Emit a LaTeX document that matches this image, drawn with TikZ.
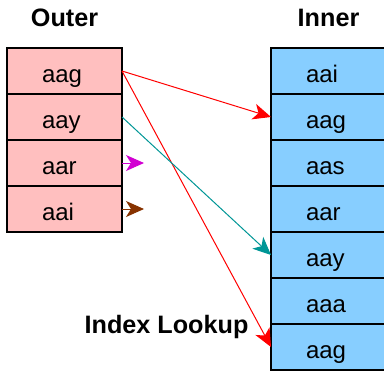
\documentclass[tikz,border=0pt]{standalone}
\usepackage{fontspec}
\setmainfont{Liberation Sans}
\usetikzlibrary{positioning, arrows.meta}

\definecolor{outerpink}{RGB}{255,191,191}
\definecolor{innerblue}{RGB}{135,206,255}
\definecolor{lookteal}{RGB}{0,150,150}
\definecolor{lookmagenta}{RGB}{210,0,210}
\definecolor{lookbrown}{RGB}{135,50,0}

\begin{document}
\begin{tikzpicture}[x=0.5pt, y=-0.5pt, node distance=0pt, font=\fontsize{12}{14}\selectfont]
    \tikzstyle{arrow} = [line width=0.5pt, -{Stealth[length=9pt, width=8pt, inset=2.5pt]}]
    \tikzstyle{title} = [font=\fontsize{12.6}{14}\selectfont\bfseries]
    \tikzstyle{row} = [rectangle, draw=black, line width=0.6pt, outer sep=0pt, minimum width=57.5pt, minimum height=23pt, inner xsep=17.5pt, inner ysep=0pt, text width=22.5pt, align=left, text height=11.5pt, text depth=0.5pt]
    \tikzstyle{outerrow} = [row, fill=outerpink]
    \tikzstyle{innerrow} = [row, fill=innerblue]
    \useasboundingbox (0,0) rectangle (384,370);
    % titles
    \node[title] (outer-title) at (64.5,18) {Outer};
    \node[title] (inner-title) at (328.5,18) {Inner};
    \node[title] (lookup) at (166.5,327) {Index Lookup};
    % outer table
    \node[outerrow] (o1) at (64.5,71) {aag};
    \node[outerrow, below=of o1] (o2) {aay};
    \node[outerrow, below=of o2] (o3) {aar};
    \node[outerrow, below=of o3] (o4) {aai};
    % inner table
    \node[innerrow] (i1) at (328.5,71) {aai};
    \node[innerrow, below=of i1] (i2) {aag};
    \node[innerrow, below=of i2] (i3) {aas};
    \node[innerrow, below=of i3] (i4) {aar};
    \node[innerrow, below=of i4] (i5) {aay};
    \node[innerrow, below=of i5] (i6) {aaa};
    \node[innerrow, below=of i6] (i7) {aag};
    % lookups
    \coordinate[right=11pt of o3.east] (m3);
    \coordinate[right=11pt of o4.east] (m4);
    \draw [arrow, red] (o1.east) -- (i2.west);
    \draw [arrow, red] (o1.east) -- (i7.west);
    \draw [arrow, lookteal] (o2.east) -- (i5.west);
    \draw [arrow, lookmagenta] (o3.east) -- (m3);
    \draw [arrow, lookbrown] (o4.east) -- (m4);
\end{tikzpicture}
\end{document}
